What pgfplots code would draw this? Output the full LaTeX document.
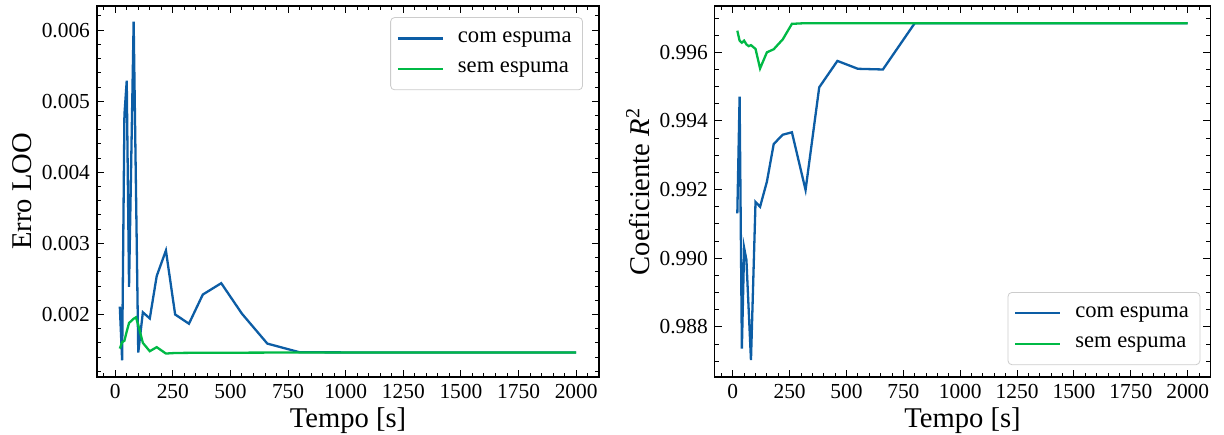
\documentclass[border=0pt]{standalone}
\usepackage{fontspec}
\setmainfont{Liberation Serif}
\usepackage{pgfplots}
\pgfplotsset{compat=1.18}
\definecolor{sblue}{HTML}{0C5DA5}
\definecolor{sgreen}{HTML}{00B945}
\pgfplotsset{
  common/.style={
    scale only axis,
    height=185.5pt,
    xmin=-79, xmax=2099,
    xtick={0,250,...,2000},
    minor xtick={-50,0,...,2050},
    tick align=inside,
    xtick pos=both, ytick pos=both,
    major tick length=3.5pt,
    minor tick length=2pt,
    tick style={black, line width=0.5pt},
    axis line style={line width=0.6pt},
    /pgf/number format/assume math mode=true,
    ticklabel style={font=\fontsize{10.7}{12}\selectfont},
    xticklabel style={/pgf/number format/1000 sep={}},
    scaled y ticks=false,
    yticklabel style={/pgf/number format/fixed, /pgf/number format/fixed zerofill, /pgf/number format/precision=3},
    label style={font=\fontsize{14.3}{16}\selectfont},
    xlabel={Tempo [s]},
    xlabel style={at={(axis description cs:0.5,-0.135)}, anchor=base},
    legend cell align=left,
    legend image code/.code={\draw[#1, line width=1.15pt] (0pt,0pt) -- (22.5pt,0pt); \path (27pt,0pt);},
    legend style={font=\fontsize{11.3}{13}\selectfont, draw=black!20, rounded corners=2pt,
      inner xsep=3pt, inner ysep=5pt, row sep=4.5pt,
      nodes={inner xsep=2.5pt, inner ysep=2pt}},
  }
}
\begin{document}
\begin{tikzpicture}
\useasboundingbox (-48.5pt,-28.5pt) rectangle (563.5pt,188.5pt);
\begin{axis}[common,
  at={(0pt,0pt)}, anchor=south west,
  width=251pt,
  ymin=0.00112, ymax=0.00634,
  ytick={0.002,0.003,0.004,0.005,0.006},
  minor ytick={0.0012,0.0014,0.0016,0.0018,0.0022,0.0024,0.0026,0.0028,0.0032,0.0034,0.0036,0.0038,0.0042,0.0044,0.0046,0.0048,0.0052,0.0054,0.0056,0.0058,0.0062},
  ylabel={Erro LOO},
  ylabel style={at={(axis description cs:-0.149,0.5)}, anchor=center},
  legend style={at={(0.968,0.970)}, anchor=north east},
]
\addplot[sblue, line width=1.15pt] coordinates {
(20,0.00211) (30,0.001356) (40,0.00481) (50,0.00529) (60,0.00239) (80,0.00612)
(100,0.001465) (120,0.00203) (150,0.001944) (180,0.00254) (220,0.00290) (260,0.00200)
(320,0.00187) (380,0.00228) (460,0.00244) (550,0.00201) (660,0.00159) (800,0.001468)
(1000,0.001466) (2000,0.001466)};
\addlegendentry{com espuma}
\addplot[sgreen, line width=1.15pt] coordinates {
(20,0.00152) (30,0.00161) (40,0.00163) (50,0.00176) (60,0.00188) (80,0.00194)
(90,0.00196) (100,0.00185) (120,0.00160) (150,0.001483) (180,0.00154) (220,0.00145)
(260,0.001458) (320,0.00146) (800,0.001465) (2000,0.001466)};
\addlegendentry{sem espuma}
\end{axis}
\begin{axis}[common,
  at={(308.9pt,0pt)}, anchor=south west,
  width=247.7pt,
  ymin=0.98654, ymax=0.99735,
  ytick={0.988,0.990,0.992,0.994,0.996},
  minor ytick={0.9870,0.9875,0.9885,0.9890,0.9895,0.9905,0.9910,0.9915,0.9925,0.9930,0.9935,0.9945,0.9950,0.9955,0.9965,0.9970},
  ylabel={Coeficiente \textit{R}\textsuperscript{2}},
  ylabel style={at={(axis description cs:-0.155,0.5)}, anchor=center},
  legend style={at={(0.980,0.032)}, anchor=south east},
]
\addplot[sblue, line width=1.15pt] coordinates {
(20,0.99131) (30,0.99471) (40,0.98737) (50,0.99030) (60,0.98995) (80,0.98703)
(100,0.99164) (120,0.99150) (150,0.99223) (180,0.99333) (220,0.99360) (260,0.99367)
(320,0.99199) (380,0.99498) (460,0.99575) (550,0.99552) (660,0.99550) (800,0.99685)
(2000,0.99685)};
\addlegendentry{com espuma}
\addplot[sgreen, line width=1.15pt] coordinates {
(20,0.99663) (30,0.99634) (40,0.99628) (50,0.99634) (60,0.99623) (70,0.99618)
(80,0.99621) (100,0.99610) (120,0.99553) (150,0.99600) (180,0.99609) (220,0.99638)
(260,0.99683) (320,0.99685) (2000,0.99685)};
\addlegendentry{sem espuma}
\end{axis}
\end{tikzpicture}
\end{document}
